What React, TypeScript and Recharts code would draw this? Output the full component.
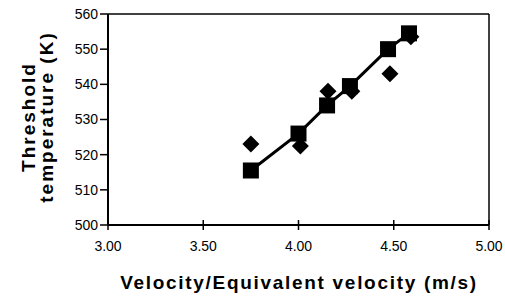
import { ScatterChart, Scatter, XAxis, YAxis, ReferenceLine } from "recharts";

// measured velocity vs threshold temperature (squares, joined by a line)
const velocity = [3.75, 4.0, 4.15, 4.27, 4.47, 4.58];
const temperature = [515.5, 526, 534, 539.5, 550, 554.5];

// equivalent velocity points (diamonds)
const equivVelocity = [3.75, 4.01, 4.155, 4.28, 4.48, 4.59];
const equivTemperature = [523, 522.5, 538, 538, 543, 553.5];

const xTicks = [3.0, 3.5, 4.0, 4.5, 5.0];
const yTicks = [500, 510, 520, 530, 540, 550, 560];

const squareData = velocity.map((v, i) => ({ x: v, y: temperature[i] }));
const diamondData = equivVelocity.map((v, i) => ({ x: v, y: equivTemperature[i] }));

const font = "'Liberation Sans', Arial, sans-serif";

const Square = (props: any) => {
  const { cx, cy } = props;
  return <rect x={cx - 8} y={cy - 8} width={16} height={16} fill="#000" />;
};

const Diamond = (props: any) => {
  const { cx, cy } = props;
  const r = 8.5;
  return (
    <polygon
      points={`${cx},${cy - r} ${cx + r},${cy} ${cx},${cy + r} ${cx - r},${cy}`}
      fill="#000"
    />
  );
};

// x ticks cross the axis line, like the original
const XTick = (props: any) => {
  const { x, y, payload } = props;
  return (
    <g>
      <line x1={x} x2={x} y1={y - 5} y2={y + 5} stroke="#000" strokeWidth={1.5} />
      <text x={x} y={y + 26} textAnchor="middle" fontFamily={font} fontSize={14} fill="#000">
        {payload.value.toFixed(2)}
      </text>
    </g>
  );
};

const YTitle = () => (
  <text
    transform="translate(0, 117) rotate(-90)"
    textAnchor="middle"
    fontFamily={font}
    fontWeight="bold"
    fontSize={19}
    letterSpacing={2}
    fill="#000"
  >
    <tspan x={0} y={35}>Threshold</tspan>
    <tspan x={0} y={53}>temperature (K)</tspan>
  </text>
);

const XTitle = () => (
  <text
    x={299}
    y={289}
    textAnchor="middle"
    fontFamily={font}
    fontWeight="bold"
    fontSize={19}
    letterSpacing={1.7}
    fill="#000"
  >
    Velocity/Equivalent velocity (m/s)
  </text>
);

export default function App() {
  return (
    <div style={{ position: "absolute", left: 0, top: 0, background: "#fff" }}>
      <ScatterChart
        width={505}
        height={303}
        margin={{ top: 14, right: 16, bottom: 58, left: 68 }}
      >
        <XAxis
          type="number"
          dataKey="x"
          domain={[3, 5]}
          ticks={xTicks}
          axisLine={{ stroke: "#000", strokeWidth: 2 }}
          tickLine={false}
          tickSize={0}
          tickMargin={0}
          tick={<XTick />}
          height={20}
          allowDataOverflow
          label={{ content: <XTitle /> }}
        />
        <YAxis
          type="number"
          dataKey="y"
          domain={[500, 560]}
          ticks={yTicks}
          axisLine={{ stroke: "#000", strokeWidth: 2 }}
          tickLine={{ stroke: "#000", strokeWidth: 1.5 }}
          tickSize={8}
          tick={{ fill: "#000", fontSize: 14, fontFamily: font }}
          width={40}
          allowDataOverflow
          label={{ content: <YTitle /> }}
        />
        <ReferenceLine y={560} stroke="#000" strokeWidth={1.5} />
        <ReferenceLine x={5} stroke="#000" strokeWidth={1.5} />
        <Scatter
          data={squareData}
          shape={<Square />}
          line={{ stroke: "#000", strokeWidth: 3 }}
          isAnimationActive={false}
        />
        <Scatter data={diamondData} shape={<Diamond />} isAnimationActive={false} />
      </ScatterChart>
    </div>
  );
}
